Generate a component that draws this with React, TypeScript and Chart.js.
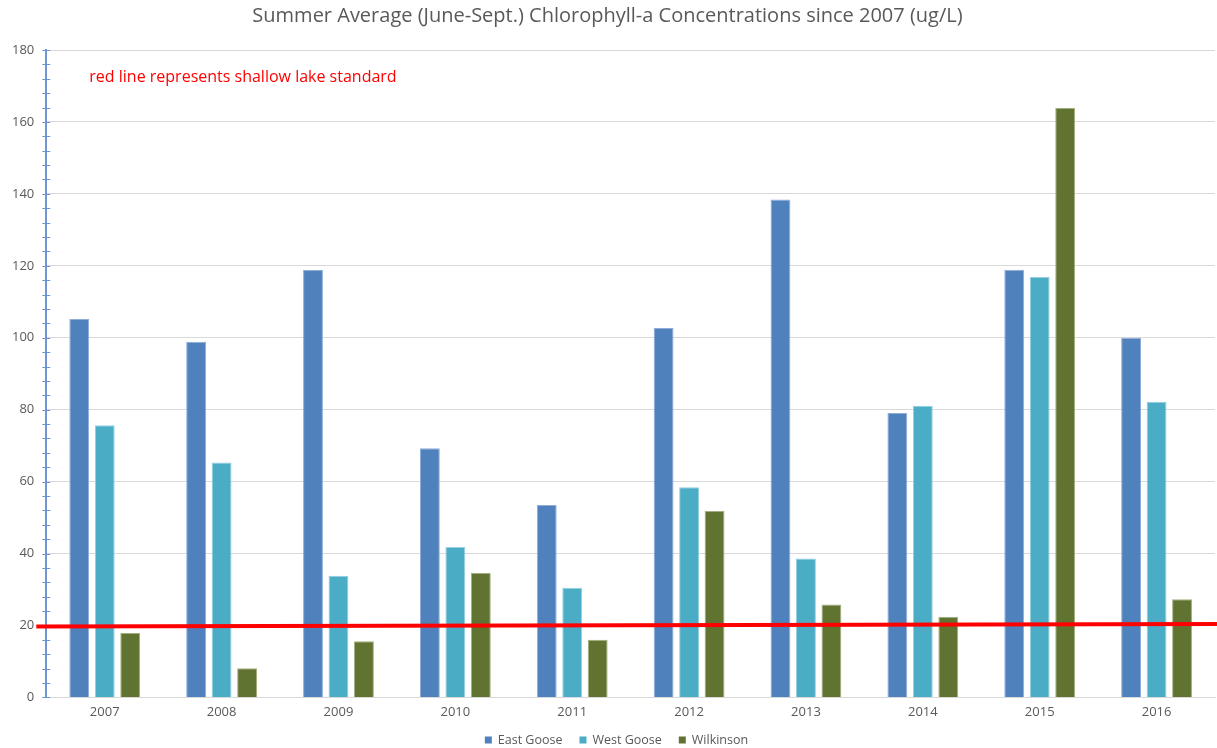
import { useEffect, useRef } from 'react';
import { Chart, registerables } from 'chart.js';

Chart.register(...registerables);

const years = ['2007', '2008', '2009', '2010', '2011', '2012', '2013', '2014', '2015', '2016'];
const eastGoose = [105.2, 98.9, 118.8, 69.3, 53.5, 102.7, 138.4, 79.1, 118.9, 100.0];
const westGoose = [75.7, 65.3, 33.8, 41.8, 30.5, 58.4, 38.6, 81.1, 116.9, 82.2];
const wilkinson = [17.9, 8.1, 15.6, 34.6, 16.0, 51.8, 25.8, 22.4, 163.9, 27.3];

// Shallow lake standard, drawn from its left-end value to its right-end value
const standardLine = [19.7, 20.4];

const yMax = 180;
const labelStep = 20;
const minorStep = 4;

const titleText = 'Summer Average (June-Sept.) Chlorophyll-a Concentrations since 2007 (ug/L)';
const noteText = 'red line represents shallow lake standard';

const FONT = '"Open Sans", Lato, sans-serif';
const GREY = '#595959';
const AXIS_BLUE = '#6f96d2';

const overlayPlugin = {
  id: 'overlay',
  afterDraw(chart: any) {
    const { ctx, chartArea } = chart;
    const y = chart.scales.y;
    ctx.save();

    // tick marks crossing the value axis
    ctx.strokeStyle = AXIS_BLUE;
    ctx.lineWidth = 1;
    ctx.beginPath();
    y.ticks.forEach((t: any) => {
      const py = Math.round(y.getPixelForValue(t.value)) + 0.5;
      ctx.moveTo(chartArea.left - 4, py);
      ctx.lineTo(chartArea.left + 4, py);
    });
    ctx.stroke();

    // shallow lake standard line
    ctx.strokeStyle = '#ff0000';
    ctx.lineWidth = 4;
    ctx.beginPath();
    ctx.moveTo(chartArea.left - 10, y.getPixelForValue(standardLine[0]));
    ctx.lineTo(chart.width, y.getPixelForValue(standardLine[1]));
    ctx.stroke();

    // note
    ctx.fillStyle = '#ff0000';
    ctx.font = `16px ${FONT}`;
    ctx.textAlign = 'left';
    ctx.textBaseline = 'middle';
    ctx.fillText(noteText, chartArea.left + 43, chartArea.top + 27);

    // legend: small square swatch followed by the series name
    const box = 7;
    const boxGap = 6;
    const itemGap = 17;
    ctx.font = `12.5px ${FONT}`;
    const items = chart.data.datasets.map((ds: any) => ({
      label: ds.label,
      color: ds.backgroundColor,
      width: box + boxGap + ctx.measureText(ds.label).width,
    }));
    const total = items.reduce((s: number, it: any) => s + it.width, 0) + itemGap * (items.length - 1);
    let x = chart.width / 2 + 8 - total / 2;
    const ly = chart.height - 8;
    items.forEach((it: any) => {
      ctx.fillStyle = it.color;
      ctx.fillRect(x, ly - box / 2, box, box);
      ctx.fillStyle = GREY;
      ctx.fillText(it.label, x + box + boxGap, ly);
      x += it.width + itemGap;
    });

    ctx.restore();
  },
};

export default function App() {
  const canvasRef = useRef<HTMLCanvasElement | null>(null);

  useEffect(() => {
    if (!canvasRef.current) return;
    const chart = new Chart(canvasRef.current, {
      type: 'bar',
      data: {
        labels: years,
        datasets: [
          { label: 'East Goose', data: eastGoose, backgroundColor: '#4f81bd', borderColor: '#8eaddb', borderWidth: 1 },
          { label: 'West Goose', data: westGoose, backgroundColor: '#4bacc6', borderColor: '#93d0e0', borderWidth: 1 },
          { label: 'Wilkinson', data: wilkinson, backgroundColor: '#617331', borderColor: '#a3b07e', borderWidth: 1 },
        ],
      },
      options: {
        responsive: false,
        animation: false,
        layout: { padding: { left: 0, right: 2, top: 0, bottom: 21 } },
        datasets: {
          bar: { categoryPercentage: 0.654, barPercentage: 0.78 },
        },
        plugins: {
          title: {
            display: true,
            text: titleText,
            color: GREY,
            font: { family: FONT, size: 20, weight: 'normal' },
            padding: { top: 4, bottom: 22 },
          },
          legend: { display: false },
          tooltip: { enabled: false },
        },
        scales: {
          x: {
            grid: { display: false, tickLength: 0 },
            border: { color: '#d9d9d9', width: 1 },
            ticks: { color: GREY, font: { family: FONT, size: 13 }, padding: 7 },
          },
          y: {
            min: 0,
            max: yMax,
            border: { color: AXIS_BLUE, width: 2 },
            grid: {
              drawTicks: false,
              color: (c: any) => (c.tick && c.tick.value % labelStep === 0 ? '#d9d9d9' : 'rgba(0,0,0,0)'),
            },
            ticks: {
              stepSize: minorStep,
              autoSkip: false,
              padding: 12,
              color: GREY,
              font: { family: FONT, size: 13 },
              callback: (v: any) => (Number(v) % labelStep === 0 ? String(v) : ''),
            },
          },
        },
      },
      plugins: [overlayPlugin],
    });
    return () => chart.destroy();
  }, []);

  return (
    <div style={{ position: 'absolute', left: 0, top: 0, width: 1217, height: 748, background: '#fff' }}>
      <canvas ref={canvasRef} width={1217} height={748} />
    </div>
  );
}
